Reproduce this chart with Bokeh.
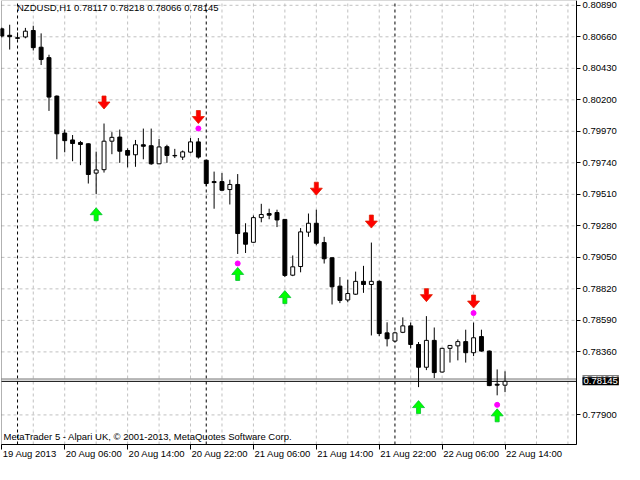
from bokeh.plotting import figure
from bokeh.models import (Range1d, FixedTicker, PrintfTickFormatter, Label, LabelSet,
                          ColumnDataSource, BoxAnnotation)
from bokeh.embed import file_html
from bokeh.resources import INLINE
from bokeh.core.properties import value

# ---------------- data ----------------
symbol = "NZDUSD,H1"
copyright_text = "MetaTrader 5 - Alpari UK, \u00a9 2001-2013, MetaQuotes Software Corp."

time_labels = ["19 Aug 2013", "20 Aug 06:00", "20 Aug 14:00", "20 Aug 22:00", "21 Aug 06:00",
               "21 Aug 14:00", "21 Aug 22:00", "22 Aug 06:00", "22 Aug 14:00"]
time_label_bars = [0, 8, 16, 24, 32, 40, 48, 56, 64]

price_ticks = [0.80890, 0.80660, 0.80430, 0.80200, 0.79970, 0.79740, 0.79510,
               0.79280, 0.79050, 0.78820, 0.78590, 0.78360, 0.77900]
grid_bars = [4, 8, 12, 16, 20, 24, 28, 32, 36, 40, 44, 48, 52, 56, 60, 64, 68, 72]

opens = [0.80718, 0.80671, 0.80653, 0.80659, 0.80706, 0.80584, 0.80508, 0.80227, 0.79957, 0.79907,
         0.79888, 0.79879, 0.79665, 0.79690, 0.79898, 0.79928, 0.79830, 0.79799, 0.79872, 0.79865,
         0.79733, 0.79858, 0.79794, 0.79782, 0.79818, 0.79893, 0.79759, 0.79603, 0.79603, 0.79545,
         0.79582, 0.79229, 0.79160, 0.79340, 0.79370, 0.79377, 0.79327, 0.78920, 0.78983, 0.79234,
         0.79299, 0.79158, 0.79047, 0.78840, 0.78739, 0.78781, 0.78875, 0.78852, 0.78875, 0.78499,
         0.78439, 0.78503, 0.78550, 0.78414, 0.78248, 0.78444, 0.78213, 0.78386, 0.78404, 0.78435,
         0.78354, 0.78472, 0.78366, 0.78124, 0.78117]
highs = [0.80727, 0.80748, 0.80692, 0.80725, 0.80741, 0.80685, 0.80529, 0.80232, 0.79983, 0.79943,
         0.79900, 0.79882, 0.79822, 0.80027, 0.79964, 0.79983, 0.79846, 0.79907, 0.79990, 0.79990,
         0.79914, 0.79872, 0.79842, 0.79830, 0.79921, 0.79921, 0.79762, 0.79676, 0.79665, 0.79617,
         0.79658, 0.79299, 0.79356, 0.79441, 0.79405, 0.79398, 0.79330, 0.79064, 0.79264, 0.79370,
         0.79398, 0.79200, 0.79050, 0.78906, 0.78887, 0.78946, 0.78988, 0.79158, 0.78882, 0.78576,
         0.78508, 0.78612, 0.78574, 0.78432, 0.78621, 0.78538, 0.78390, 0.78410, 0.78451, 0.78522,
         0.78574, 0.78522, 0.78370, 0.78232, 0.78218]
lows = [0.80656, 0.80567, 0.80642, 0.80649, 0.80560, 0.80454, 0.80119, 0.79766, 0.79817, 0.79752,
        0.79723, 0.79589, 0.79511, 0.79669, 0.79803, 0.79740, 0.79707, 0.79711, 0.79766, 0.79726,
        0.79730, 0.79740, 0.79775, 0.79761, 0.79810, 0.79771, 0.79570, 0.79405, 0.79536, 0.79436,
        0.79075, 0.79082, 0.79158, 0.79306, 0.79328, 0.79271, 0.78906, 0.78913, 0.78941, 0.79200,
        0.79139, 0.79005, 0.78706, 0.78716, 0.78722, 0.78776, 0.78791, 0.78480, 0.78475, 0.78400,
        0.78430, 0.78497, 0.78386, 0.78103, 0.78227, 0.78169, 0.78209, 0.78282, 0.78298, 0.78282,
        0.78329, 0.78362, 0.78110, 0.78043, 0.78066]
closes = [0.80666, 0.80661, 0.80649, 0.80701, 0.80581, 0.80494, 0.80220, 0.79952, 0.79902, 0.79881,
          0.79874, 0.79655, 0.79688, 0.79898, 0.79926, 0.79825, 0.79796, 0.79872, 0.79861, 0.79733,
          0.79856, 0.79794, 0.79791, 0.79820, 0.79893, 0.79782, 0.79589, 0.79596, 0.79540, 0.79582,
          0.79224, 0.79146, 0.79340, 0.79363, 0.79358, 0.79323, 0.78918, 0.78981, 0.79236, 0.79299,
          0.79153, 0.79040, 0.78835, 0.78736, 0.78786, 0.78875, 0.78852, 0.78875, 0.78494, 0.78456,
          0.78499, 0.78550, 0.78414, 0.78248, 0.78444, 0.78209, 0.78386, 0.78407, 0.78435, 0.78354,
          0.78463, 0.78366, 0.78114, 0.78117, 0.78145]

up_signal_bars = [12, 30, 36, 53, 63]
down_signal_bars = [13, 25, 40, 47, 54, 60]
dot_above_bars = [25, 60]
dot_below_bars = [30, 63]
day_separator_bars = [2, 26, 50]
bid_price = 0.78145
ask_price = 0.78162

# ---------------- layout ----------------
W, H = 624, 464
FL, FR, FT, FB = 1, 576, 0, 444          # chart frame in canvas pixels
X0, X1 = -0.04, 73.09                    # bars visible inside the chart frame
Y0, Y1 = 0.77684, 0.80925                # prices visible inside the chart frame
bpp = (X1 - X0) / (FR - FL)              # bars per pixel
ppy = (Y1 - Y0) / (FB - FT)              # price per pixel

FONT = "Liberation Sans"
FSIZE = "9.5px"

p = figure(width=W, height=H, output_backend="svg", toolbar_location=None,
           x_range=Range1d(X0 - FL * bpp, X1 + (W - FR) * bpp),
           y_range=Range1d(Y0 - (H - FB) * ppy, Y1 + FT * ppy),
           y_axis_location="right", x_axis_location="below",
           min_border=0, min_border_left=0, min_border_right=0,
           min_border_top=0, min_border_bottom=0)
p.background_fill_color = "white"
p.border_fill_color = "white"
p.outline_line_color = None
p.xgrid.visible = False
p.ygrid.visible = False

# price axis on the right edge of the chart frame
p.yaxis.fixed_location = X1
p.yaxis.bounds = (Y0, Y1)
p.yaxis.ticker = FixedTicker(ticks=price_ticks)
p.yaxis.formatter = PrintfTickFormatter(format="%.5f")
p.yaxis.major_tick_out = 4
p.yaxis.major_tick_in = 0
p.yaxis.minor_tick_out = 0
p.yaxis.minor_tick_in = 0
p.yaxis.axis_line_color = "black"
p.yaxis.major_tick_line_color = "black"
p.yaxis.major_label_standoff = 2
p.yaxis.major_label_text_font = FONT
p.yaxis.major_label_text_font_size = FSIZE
p.yaxis.major_label_text_color = "black"

# time axis on the bottom edge of the chart frame (tick marks; labels left-aligned below)
p.xaxis.fixed_location = Y0
p.xaxis.bounds = (X0, X1)
p.xaxis.ticker = FixedTicker(ticks=time_label_bars)
p.xaxis.major_label_overrides = {b: "" for b in time_label_bars}
p.xaxis.major_tick_out = 5
p.xaxis.major_tick_in = 0
p.xaxis.minor_tick_out = 0
p.xaxis.minor_tick_in = 0
p.xaxis.axis_line_color = "black"
p.xaxis.major_tick_line_color = "black"

# dashed grid inside the chart frame
p.segment(x0=X0, x1=X1, y0=price_ticks, y1=price_ticks,
          line_color="#C0C0C0", line_dash="3 3", line_width=1)
p.segment(x0=grid_bars, x1=grid_bars, y0=Y0, y1=Y1,
          line_color="#C0C0C0", line_dash="3 3", line_width=1)

# day separators
p.segment(x0=day_separator_bars, x1=day_separator_bars, y0=Y0, y1=Y1,
          line_color="black", line_dash="3 3", line_width=1)

# ask / bid lines
p.segment(x0=X0, x1=X1, y0=ask_price, y1=ask_price, line_color="#707070", line_width=1)
p.segment(x0=X0, x1=X1, y0=bid_price, y1=bid_price, line_color="black", line_width=1)

# candles
n = len(opens)
src = ColumnDataSource(dict(
    x=list(range(n)), o=opens, h=highs, l=lows, c=closes,
    top=[max(a, b) for a, b in zip(opens, closes)],
    bottom=[min(a, b) for a, b in zip(opens, closes)],
    fill=["white" if c >= o else "black" for o, c in zip(opens, closes)],
))
p.segment(x0="x", y0="l", x1="x", y1="h", source=src, line_color="black", line_width=1)
p.vbar(x="x", width=0.5, top="top", bottom="bottom", source=src,
       fill_color="fill", line_color="black", line_width=1)

# arrows (shape in screen pixels, anchored on the bar's high / low)
down_shape = [(-2, 6.5), (2, 6.5), (2, 0.5), (6, 0.5), (0, -6.5), (-6, 0.5), (-2, 0.5)]
up_shape = [(dx, -dy) for dx, dy in down_shape]

def arrow_patches(bars, anchor, offset_px, shape):
    xs, ys = [], []
    for b in bars:
        cy = anchor[b] + offset_px * ppy
        xs.append([b + dx * bpp for dx, dy in shape])
        ys.append([cy + dy * ppy for dx, dy in shape])
    return xs, ys

dxs, dys = arrow_patches(down_signal_bars, highs, 21.0, down_shape)
p.patches(dxs, dys, fill_color="#FF0000", line_color="#E02000", line_width=0.8)
uxs, uys = arrow_patches(up_signal_bars, lows, -20.0, up_shape)
p.patches(uxs, uys, fill_color="#00FF00", line_color="#00C030", line_width=0.8)

# magenta dots
p.scatter(x=dot_above_bars, y=[highs[b] + 9.5 * ppy for b in dot_above_bars],
          size=5, marker="circle", fill_color="#FF00FF", line_color="#FF00FF")
p.scatter(x=dot_below_bars, y=[lows[b] - 9.5 * ppy for b in dot_below_bars],
          size=5, marker="circle", fill_color="#FF00FF", line_color="#FF00FF")

# chart frame
p.add_layout(BoxAnnotation(left=X0, right=X1, bottom=Y0, top=Y1,
                           fill_color=None, fill_alpha=0, line_color="black", line_width=1))

# title (symbol + last bar OHLC)
title = f"{symbol}  {opens[-1]:.5f} {highs[-1]:.5f} {lows[-1]:.5f} {closes[-1]:.5f}"
p.add_layout(Label(x=X0 + 15.5 * bpp, y=Y1 - 1.5 * ppy, text=title,
                   text_font=FONT, text_font_size=FSIZE, text_color="black",
                   text_align="left", text_baseline="top"))

# copyright
p.add_layout(Label(x=X0 + 2 * bpp, y=Y0 + 2.5 * ppy, text=copyright_text,
                   text_font=FONT, text_font_size=FSIZE, text_color="black",
                   text_align="left", text_baseline="bottom"))

# time labels, left aligned at their ticks
xl_src = ColumnDataSource(dict(x=time_label_bars, y=[Y0 - 3 * ppy] * len(time_label_bars),
                               text=time_labels))
p.add_layout(LabelSet(x="x", y="y", text="text", source=xl_src, x_offset=1,
                      text_font=value(FONT), text_font_size=value(FSIZE), text_color="black",
                      text_align="left", text_baseline="top"))

# ask / bid price tags on the price axis
for price, bg in ((ask_price, "#808080"), (bid_price, "black")):
    p.add_layout(Label(x=X1 + 6 * bpp, y=price, text=f"{price:.5f}",
                       text_font=FONT, text_font_size=FSIZE, text_color="white",
                       text_align="left", text_baseline="middle",
                       background_fill_color=bg, padding=1))

open("out.html", "w").write(file_html(p, INLINE))
